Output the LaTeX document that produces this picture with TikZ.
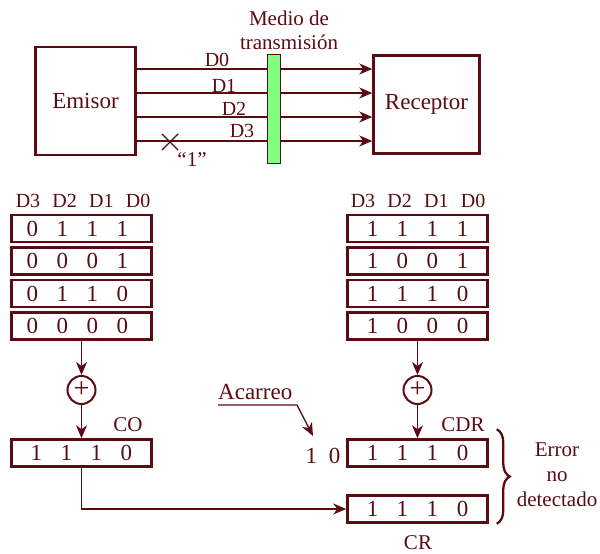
\documentclass[tikz,border=0pt]{standalone}
\usepackage{fontspec}
\setmainfont{Liberation Serif}
\usepackage{tikz}
\usetikzlibrary{arrows.meta,positioning,calc,shapes.misc,decorations.pathreplacing}
\usepackage{xcolor}
\definecolor{granate}{RGB}{90,12,18}
\definecolor{verde}{RGB}{128,255,128}
\newcommand{\bits}[4]{\makebox[30pt]{#1}\makebox[30pt]{#2}\makebox[30pt]{#3}\makebox[30pt]{#4}}

\begin{document}
\begin{tikzpicture}[
  	x=1pt,
  	y=-1pt,
  	color=granate,
  	font=\fontsize{21}{25}\selectfont,
  	grande/.style={font=\fontsize{23}{27}\selectfont},
  	bloque/.style={draw,line width=2.5pt,minimum width=100pt,inner sep=0pt,grande},
  	fila/.style={draw,line width=2.5pt,minimum width=140pt,minimum height=27pt,inner sep=0pt,grande},
  	barra/.style={draw,fill=verde,line width=1.2pt,minimum width=13pt,minimum height=109pt,inner sep=0pt},
  	sumador/.style={circle,draw,line width=2pt,minimum size=28pt,inner sep=0pt,font=\fontsize{28}{28}\selectfont},
  	cabecera/.style={anchor=base,font=\fontsize{20}{24}\selectfont},
  	senal/.style={draw,line width=1.3pt,-{Stealth[length=13pt,width=11pt,inset=4pt]}},
  	linea/.style={draw,line width=1.3pt}
  	]
  	\useasboundingbox (0,0) rectangle (600,554);
  	
  	% Emisor, medio y receptor
  	\node[bloque,minimum height=108pt] (emisor) at (85.5,101) {Emisor};
  	\node[bloque,minimum width=106pt,minimum height=98pt] (receptor) at (426.5,104.5) {Receptor};
  	\foreach \y in {69,93,117,141} {
  		\draw[senal] (emisor.east |- 0,\y) -- (receptor.west |- 0,\y);
  	}
  	\node[barra] (medio) at (274,109) {};
  	\node[align=center,font=\fontsize{21}{24}\selectfont] (titulo) at (289,30) {Medio de\\transmisión};
  	\foreach \n/\x/\y in {0/217/66,1/224/92,2/234/115,3/242/137} {
  		\node[cabecera] (d\n) at (\x,\y) {D\n};
  	}
  	\node[cross out,draw,line width=1.2pt,minimum size=15pt,inner sep=0pt] (fallo) at (170,142) {};
  	\node (uno) at (192,160) {“1”};
  	
  	% Tablas de datos
  	\foreach \n [count=\i] in {3,2,1,0} {
  		\node[cabecera] (hizq\n) at ({28+36.7*(\i-1)},207) {D\n};
  		\node[cabecera] (hder\n) at ({363+36.7*(\i-1)},207) {D\n};
  	}
  	\foreach \d [count=\i] in {0111,0001,0110,0000} {
  		\node[fila] (izq\i) at (81.5,{228.5+32.5*(\i-1)}) {\hspace*{-8pt}\expandafter\bits\d};
  	}
  	\foreach \d [count=\i] in {1111,1001,1110,1000} {
  		\node[fila] (der\i) at (417.5,{228.5+32.5*(\i-1)}) {\expandafter\bits\d};
  	}
  	
  	% Sumas
  	\node[sumador] (sumaizq) at (81.5,390) {+};
  	\node[sumador] (sumader) at (417.5,390) {+};
  	\node[fila] (co) at (81.5,453) {\bits1110};
  	\node[fila] (cdr) at (417.5,453) {\bits1110};
  	\node[fila] (cr) at (417.5,509) {\bits1110};
  	\node (etco) at (128,425) {CO};
  	\node (etcdr) at (463,425) {CDR};
  	\node (etcr) at (418,543) {CR};
  	\draw[senal] (izq4.south) -- (sumaizq.north);
  	\draw[senal] (sumaizq.south) -- (co.north);
  	\draw[senal] (der4.south) -- (sumader.north);
  	\draw[senal] (sumader.south) -- (cdr.north);
  	\draw[senal] (co.south) |- (cr.west);
  	
  	% Acarreo
  	\node[grande,anchor=south west,inner xsep=0pt,inner ysep=5pt] (acarreo) at (218,405) {Acarreo};
  	\node[grande] (sobrante) at (323,456) {1\hspace{12pt}0};
  	\coordinate (punta) at (313,436);
  	\draw[senal] (acarreo.south west) -- ++(79,0) -- (punta);
  	
  	% Conclusion
  	\draw[decorate,decoration={brace,amplitude=13pt},line width=2.3pt] ([xshift=8pt,yshift=9pt]cdr.north east) -- ([xshift=8pt]cr.south east);
  	\node[align=center] (nota) at (557,475) {Error\\no\\detectado};
\end{tikzpicture}
\end{document}
